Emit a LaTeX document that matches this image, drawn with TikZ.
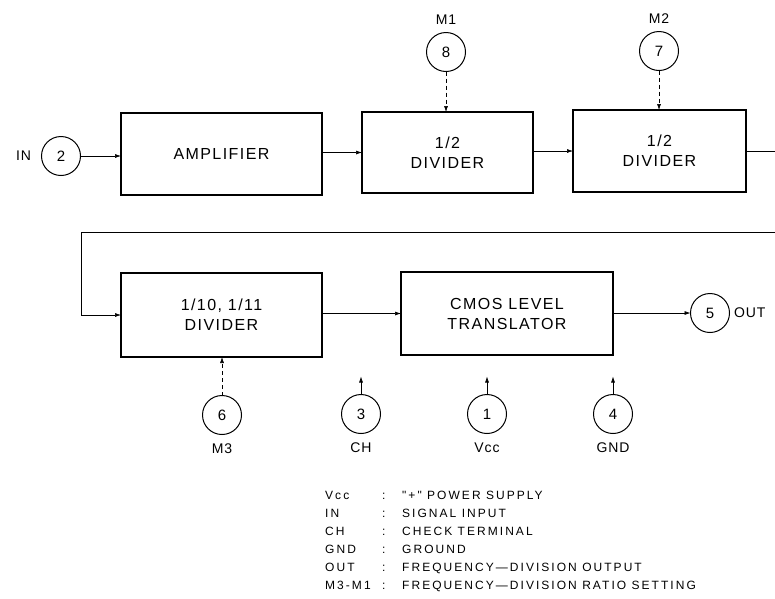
\documentclass[tikz,border=0pt]{standalone}
\usepackage{fontspec}
\setmainfont{Liberation Sans}
\newfontfamily\boxfont[LetterSpace=9]{Liberation Sans}
\newfontfamily\pinfont[LetterSpace=6]{Liberation Sans}
\newfontfamily\legfont[LetterSpace=17]{Liberation Sans}
\usetikzlibrary{arrows.meta}
\begin{document}
\begin{tikzpicture}[x=1pt,y=-1pt,
  blk/.style={draw,line width=1.3pt,rectangle,inner sep=0pt,outer sep=0pt,align=center,
    font=\boxfont\fontsize{16}{20}\selectfont},
  pin/.style={draw,line width=1pt,circle,minimum size=39pt,inner sep=0pt,outer sep=0pt,
    font=\fontsize{15}{15}\selectfont},
  plabel/.style={font=\pinfont\fontsize{14}{14}\selectfont,inner sep=0pt},
  conn/.style={line width=0.6pt,-{Latex[length=6pt,width=4pt]}},
  wire/.style={line width=0.6pt},
  dconn/.style={conn,dash pattern=on 4pt off 3pt},
  leg/.style={font=\legfont\fontsize{12}{12}\selectfont,inner sep=0pt,anchor=base west}]
\useasboundingbox (0,0) rectangle (775,598);
% blocks
\node[blk,minimum width=201pt,minimum height=82pt] (amp) at (221.5,154) {AMPLIFIER};
\node[blk,minimum width=171pt,minimum height=81pt] (div1) at (447.5,152.5) {1/2\\DIVIDER};
\node[blk,minimum width=173pt,minimum height=82pt] (div2) at (659.5,151) {1/2\\DIVIDER};
\node[blk,minimum width=201pt,minimum height=84pt] (div3) at (221.5,315) {1/10, 1/11\\DIVIDER};
\node[blk,minimum width=212pt,minimum height=83pt] (cmos) at (507,313.5) {CMOS LEVEL\\TRANSLATOR};
% pins
\node[pin] (p2) at (61,156) {2};
\node[pin] (p8) at (446,52) {8};
\node[pin] (p7) at (659,51) {7};
\node[pin] (p5) at (710,313) {5};
\node[pin] (p6) at (222,415) {6};
\node[pin] (p3) at (361,414) {3};
\node[pin] (p1) at (487,414) {1};
\node[pin] (p4) at (613,414) {4};
% pin labels
\node[plabel] (lin) at (23.5,156) {IN};
\node[plabel] (lm1) at (446,20) {M1};
\node[plabel] (lm2) at (659,19) {M2};
\node[plabel,anchor=west] (lout) at (734,313) {OUT};
\node[plabel] (lm3) at (222,449) {M3};
\node[plabel] (lch) at (361,448) {CH};
\node[plabel] (lvcc) at (487,448) {Vcc};
\node[plabel] (lgnd) at (613,448) {GND};
% connectors
\draw[conn] (p2) -- (p2 -| amp.west);
\draw[conn] (amp.east |- div1) -- (div1.west);
\draw[conn] (div1.east |- div2) -- (div2.west);
\coordinate (r1) at (775,151);
\coordinate (r2) at (775,232);
\coordinate (l1) at (81,232);
\draw[wire] (div2.east) -- (r1);
\draw[conn] (r2) -- (l1) |- (div3.west);
\draw[conn] (div3.east |- cmos) -- (cmos.west);
\draw[conn] (cmos.east |- p5) -- (p5.west);
\draw[dconn] (p8.south) -- (p8 |- div1.north);
\draw[dconn] (p7.south) -- (p7 |- div2.north);
\draw[dconn] (p6.north) -- (p6 |- div3.south);
\draw[conn] (p3.north) -- ++(0,-18);
\draw[conn] (p1.north) -- ++(0,-18);
\draw[conn] (p4.north) -- ++(0,-18);
% legend
\foreach \k/\lab/\desc [count=\i from 0] in {a/Vcc/{"+" POWER SUPPLY},b/IN/SIGNAL INPUT,c/CH/CHECK TERMINAL,d/GND/GROUND,e/OUT/{FREQUENCY\textemdash DIVISION OUTPUT},f/M3-M1/{FREQUENCY\textemdash DIVISION RATIO SETTING}}{
  \node[leg] (lk\k) at (325,499+18*\i) {\lab};
  \node[leg] (lc\k) at (382,499+18*\i) {:};
  \node[leg] (ld\k) at (402,499+18*\i) {\desc};
}
\end{tikzpicture}
\end{document}
